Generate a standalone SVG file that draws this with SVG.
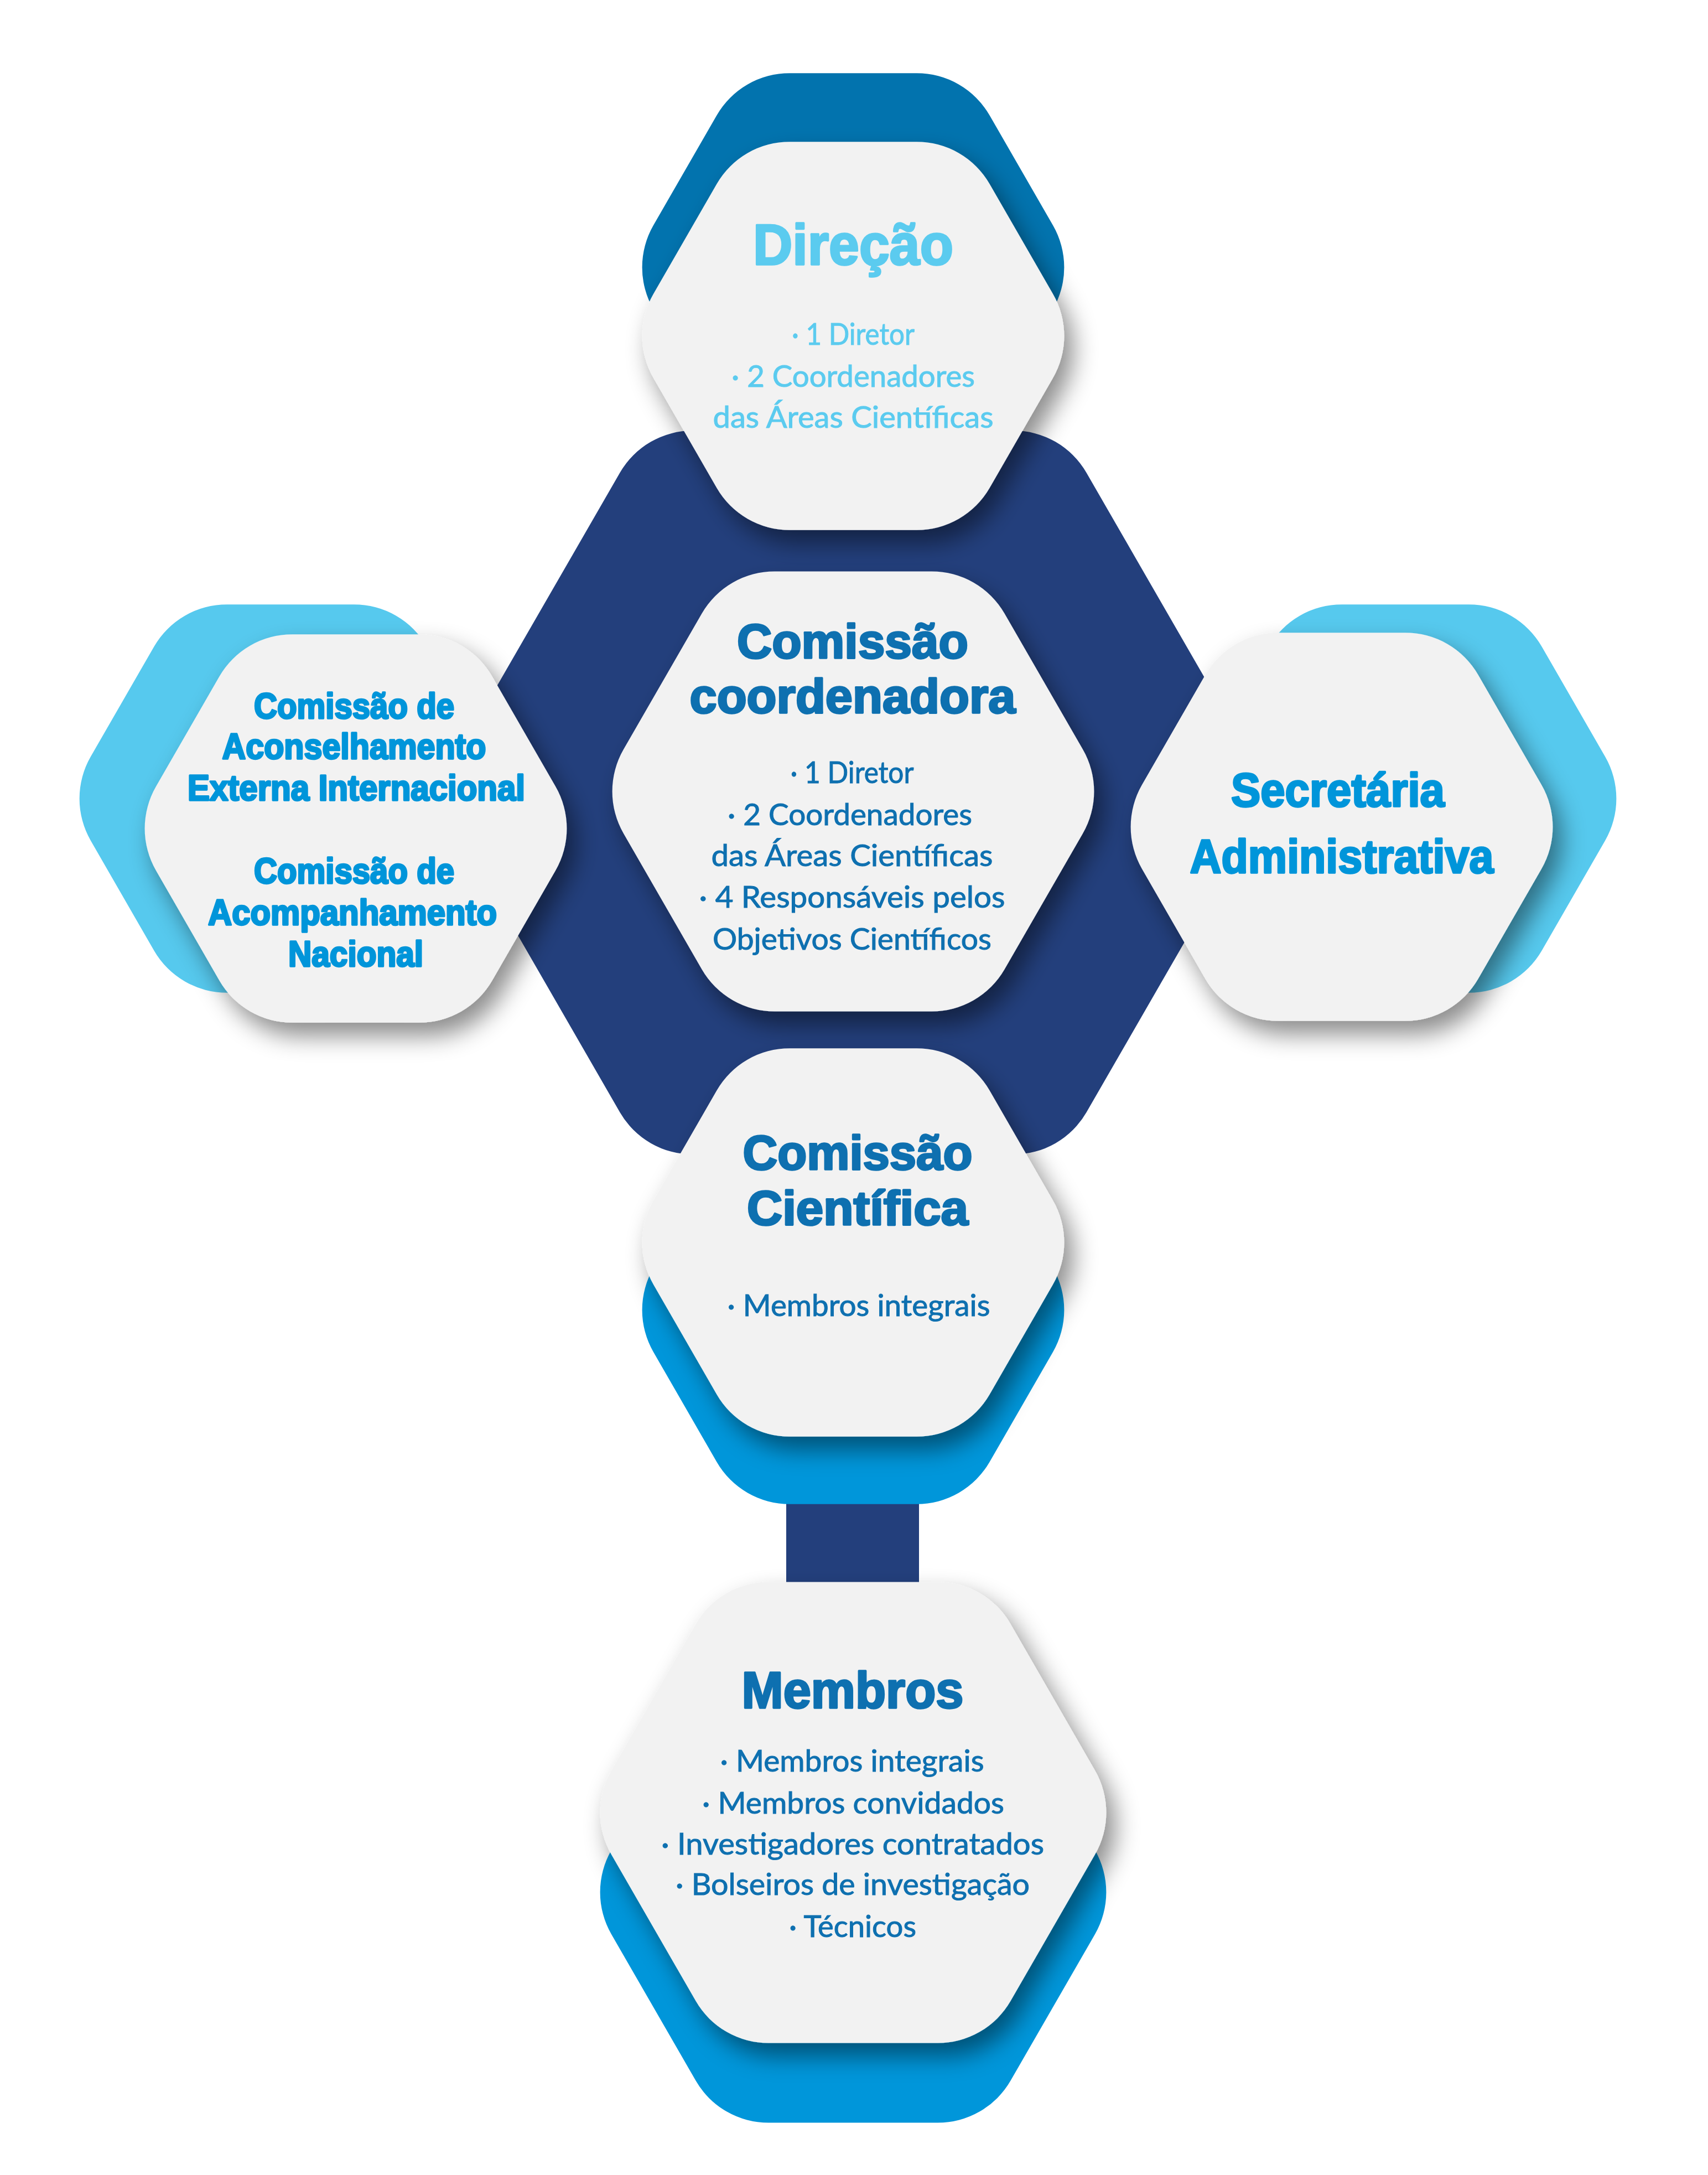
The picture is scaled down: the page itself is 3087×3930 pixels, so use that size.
<svg xmlns="http://www.w3.org/2000/svg" xmlns:xlink="http://www.w3.org/1999/xlink" width="3087" height="3930" viewBox="0 0 3087 3930">
<defs>
<filter id="sh" x="-25%" y="-25%" width="155%" height="155%">
<feDropShadow dx="16" dy="24" stdDeviation="22" flood-color="#000" flood-opacity="0.45"/>
</filter>
<path id="hex405" d="M361 -76 a152 152 0 0 1 0 152 l-114.5 198.74 a152 152 0 0 1 -132 76 h-229 a152 152 0 0 1 -132 -76 l-114.5 -198.74 a152 152 0 0 1 0 -152 l114.5 -198.74 a152 152 0 0 1 132 -76 h229 a152 152 0 0 1 132 76 z"/>
<path id="hex459" d="M415 -76 a152 152 0 0 1 0 152 l-141.5 245.5 a152 152 0 0 1 -132 76 h-283 a152 152 0 0 1 -132 -76 l-141.5 -245.5 a152 152 0 0 1 0 -152 l141.5 -245.5 a152 152 0 0 1 132 -76 h283 a152 152 0 0 1 132 76 z"/>
<path id="hex481" d="M437 -76 a152 152 0 0 1 0 152 l-152.5 264.6 a152 152 0 0 1 -132 76 h-305 a152 152 0 0 1 -132 -76 l-152.5 -264.6 a152 152 0 0 1 0 -152 l152.5 -264.6 a152 152 0 0 1 132 -76 h305 a152 152 0 0 1 132 76 z"/>
<path id="hex755" d="M711 -76 a152 152 0 0 1 0 152 l-289.5 501.9 a152 152 0 0 1 -132 76 h-579 a152 152 0 0 1 -132 -76 l-289.5 -501.9 a152 152 0 0 1 0 -152 l289.5 -501.9 a152 152 0 0 1 132 -76 h579 a152 152 0 0 1 132 76 z"/>
</defs>
<style>
.navy{fill:#233F7C}
.teal{fill:#0273AE}
.sky{fill:#56C9EE}
.mid{fill:#0096DA}
.card{fill:#F2F2F2;filter:url(#sh)}
text{font-family:Lato,"Liberation Sans",Arial,sans-serif;text-anchor:middle}
.ti{font-family:"Liberation Sans",Arial,sans-serif;font-weight:700;stroke-width:3.5px;stroke-linejoin:round}
.bd{font-weight:400;font-size:54px;stroke:none}
.c1{fill:#5BCBEF;stroke:#5BCBEF}
.c2{fill:#0E70B0;stroke:#0E70B0}
.c3{fill:#0095DA;stroke:#0095DA}
</style>
<rect width="3087" height="3930" fill="#FFFFFF"/>

<g id="connectors">
<use xlink:href="#hex755" href="#hex755" x="1542" y="1432" class="navy"/>
<rect x="1421" y="2640" width="240" height="300" class="navy"/>
</g>

<g id="node-direcao">
<use href="#hex405" xlink:href="#hex405" x="1542" y="483" class="teal"/>
<use href="#hex405" xlink:href="#hex405" x="1542" y="607" class="card"/>
<text x="1542" y="478" class="ti c1" font-size="104" textLength="362" lengthAdjust="spacingAndGlyphs">Direção</text>
<text x="1542" y="623" class="bd c1" textLength="222" lengthAdjust="spacingAndGlyphs">· 1 Diretor</text>
<text x="1542" y="699" class="bd c1" textLength="440" lengthAdjust="spacingAndGlyphs">· 2 Coordenadores</text>
<text x="1542" y="773" class="bd c1" textLength="507" lengthAdjust="spacingAndGlyphs">das Áreas Científicas</text>
</g>

<g id="node-aconselhamento">
<use href="#hex405" xlink:href="#hex405" x="525" y="1443" class="sky"/>
<use href="#hex405" xlink:href="#hex405" x="643" y="1497" class="card"/>
<text x="640" y="1298" class="ti c3" font-size="64" textLength="362" lengthAdjust="spacingAndGlyphs">Comissão de</text>
<text x="640" y="1371" class="ti c3" font-size="64" textLength="477" lengthAdjust="spacingAndGlyphs">Aconselhamento</text>
<text x="644" y="1446" class="ti c3" font-size="64" textLength="610" lengthAdjust="spacingAndGlyphs">Externa Internacional</text>
<text x="640" y="1596" class="ti c3" font-size="64" textLength="362" lengthAdjust="spacingAndGlyphs">Comissão de</text>
<text x="637" y="1671" class="ti c3" font-size="64" textLength="522" lengthAdjust="spacingAndGlyphs">Acompanhamento</text>
<text x="643" y="1746" class="ti c3" font-size="64" textLength="244" lengthAdjust="spacingAndGlyphs">Nacional</text>
</g>

<g id="node-secretaria">
<use href="#hex405" xlink:href="#hex405" x="2540" y="1443" class="sky"/>
<use href="#hex405" xlink:href="#hex405" x="2425" y="1494" class="card"/>
<text x="2418" y="1457" class="ti c3" font-size="86" textLength="386" lengthAdjust="spacingAndGlyphs">Secretária</text>
<text x="2425" y="1577" class="ti c3" font-size="86" textLength="549" lengthAdjust="spacingAndGlyphs">Administrativa</text>
</g>

<g id="node-coordenadora">
<use href="#hex459" xlink:href="#hex459" x="1542" y="1430" class="card"/>
<text x="1541" y="1189" class="ti c2" font-size="88" textLength="418" lengthAdjust="spacingAndGlyphs">Comissão</text>
<text x="1541" y="1288" class="ti c2" font-size="88" textLength="589" lengthAdjust="spacingAndGlyphs">coordenadora</text>
<text x="1540" y="1415" class="bd c2" textLength="223" lengthAdjust="spacingAndGlyphs">· 1 Diretor</text>
<text x="1536" y="1491" class="bd c2" textLength="442" lengthAdjust="spacingAndGlyphs">· 2 Coordenadores</text>
<text x="1540" y="1565" class="bd c2" textLength="509" lengthAdjust="spacingAndGlyphs">das Áreas Científicas</text>
<text x="1540" y="1640" class="bd c2" textLength="553" lengthAdjust="spacingAndGlyphs">· 4 Responsáveis pelos</text>
<text x="1540" y="1716" class="bd c2" textLength="504" lengthAdjust="spacingAndGlyphs">Objetivos Científicos</text>
</g>

<g id="node-cientifica">
<use href="#hex405" xlink:href="#hex405" x="1542" y="2367" class="mid"/>
<use href="#hex405" xlink:href="#hex405" x="1542" y="2245" class="card"/>
<text x="1550" y="2113" class="ti c2" font-size="88" textLength="415" lengthAdjust="spacingAndGlyphs">Comissão</text>
<text x="1550" y="2213" class="ti c2" font-size="88" textLength="400" lengthAdjust="spacingAndGlyphs">Científica</text>
<text x="1552" y="2378" class="bd c2" textLength="475" lengthAdjust="spacingAndGlyphs">· Membros integrais</text>
</g>

<g id="node-membros">
<use href="#hex481" xlink:href="#hex481" x="1542" y="3419" class="mid"/>
<use href="#hex481" xlink:href="#hex481" x="1542" y="3275" class="card"/>
<text x="1541" y="3086" class="ti c2" font-size="92" textLength="401" lengthAdjust="spacingAndGlyphs">Membros</text>
<text x="1540" y="3201" class="bd c2" textLength="477" lengthAdjust="spacingAndGlyphs">· Membros integrais</text>
<text x="1542" y="3277" class="bd c2" textLength="546" lengthAdjust="spacingAndGlyphs">· Membros convidados</text>
<text x="1541" y="3351" class="bd c2" textLength="692" lengthAdjust="spacingAndGlyphs">· Investigadores contratados</text>
<text x="1541" y="3424" class="bd c2" textLength="640" lengthAdjust="spacingAndGlyphs">· Bolseiros de investigação</text>
<text x="1541" y="3500" class="bd c2" textLength="230" lengthAdjust="spacingAndGlyphs">· Técnicos</text>
</g>
</svg>
